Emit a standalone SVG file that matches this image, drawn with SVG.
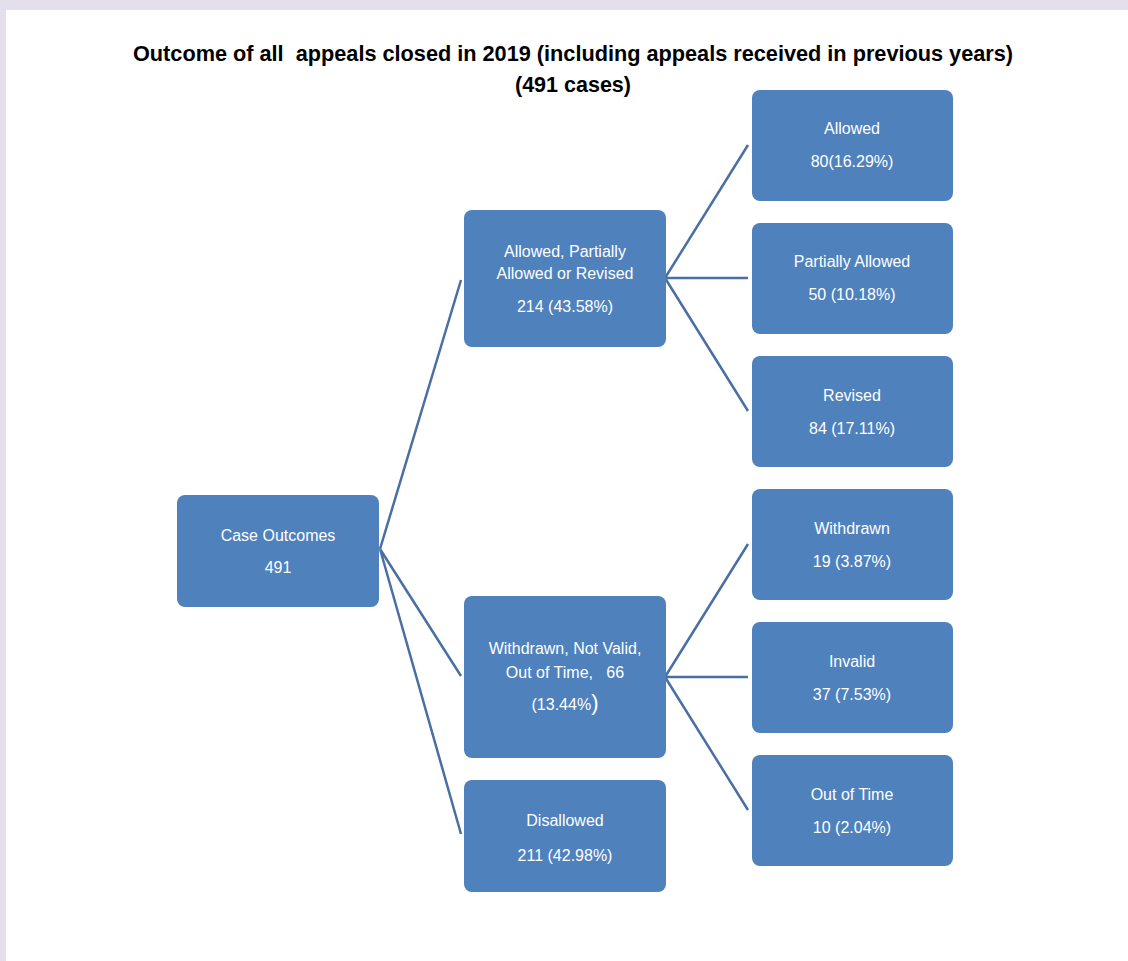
<svg xmlns="http://www.w3.org/2000/svg" width="1128" height="961" viewBox="0 0 1128 961">
<style>
.bg{fill:#E4DFEC}
.box{fill:#4F81BD}
.t{fill:#FFFFFF;font-family:"Liberation Sans Narrow","Liberation Sans",Arial,sans-serif;font-size:16px;text-anchor:middle}
.title{fill:#000000;font-family:"Liberation Sans","Open Sans",sans-serif;font-weight:bold;font-size:22px;text-anchor:middle}
.c{stroke:#4A6FA3;stroke-width:2.5;fill:none}
</style>
<rect x="0" y="0" width="1128" height="961" fill="#FFFFFF"/>
<rect class="bg" x="0" y="0" width="1128" height="10"/>
<rect class="bg" x="0" y="0" width="6" height="961"/>
<g id="title">
<text class="title" x="573" y="61" textLength="880" lengthAdjust="spacingAndGlyphs" xml:space="preserve">Outcome of all  appeals closed in 2019 (including appeals received in previous years)</text>
<text class="title" x="573" y="92" textLength="116" lengthAdjust="spacingAndGlyphs">(491 cases)</text>
</g>
<g id="connectors">
<path class="c" d="M380,549 L461,280 M380,549 L461,676 M380,549 L461,834"/>
<path class="c" d="M665,278 L748,145 M665,278 L748,278 M665,278 L748,411"/>
<path class="c" d="M665,677 L748,544 M665,677 L748,677 M665,677 L748,810"/>
</g>
<g id="root">
<rect class="box" x="177" y="495" width="202" height="112" rx="8"/>
<text class="t" x="278" y="541">Case Outcomes</text>
<text class="t" x="278" y="573">491</text>
</g>
<g id="allowed-group">
<rect class="box" x="464" y="210" width="202" height="137" rx="8"/>
<text class="t" x="565" y="257">Allowed, Partially</text>
<text class="t" x="565" y="279">Allowed or Revised</text>
<text class="t" x="565" y="312">214 (43.58%)</text>
</g>
<g id="withdrawn-group">
<rect class="box" x="464" y="596" width="202" height="162" rx="8"/>
<text class="t" x="565" y="654">Withdrawn, Not Valid,</text>
<text class="t" x="565" y="678" xml:space="preserve">Out of Time,   66</text>
<text class="t" x="565" y="710">(13.44%<tspan font-size="22px">)</tspan></text>
</g>
<g id="disallowed">
<rect class="box" x="464" y="780" width="202" height="112" rx="8"/>
<text class="t" x="565" y="826">Disallowed</text>
<text class="t" x="565" y="861">211 (42.98%)</text>
</g>
<g id="allowed">
<rect class="box" x="752" y="90" width="201" height="111" rx="8"/>
<text class="t" x="852" y="134">Allowed</text>
<text class="t" x="852" y="167">80(16.29%)</text>
</g>
<g id="partially-allowed">
<rect class="box" x="752" y="223" width="201" height="111" rx="8"/>
<text class="t" x="852" y="267">Partially Allowed</text>
<text class="t" x="852" y="300">50 (10.18%)</text>
</g>
<g id="revised">
<rect class="box" x="752" y="356" width="201" height="111" rx="8"/>
<text class="t" x="852" y="401">Revised</text>
<text class="t" x="852" y="434">84 (17.11%)</text>
</g>
<g id="withdrawn">
<rect class="box" x="752" y="489" width="201" height="111" rx="8"/>
<text class="t" x="852" y="534">Withdrawn</text>
<text class="t" x="852" y="567">19 (3.87%)</text>
</g>
<g id="invalid">
<rect class="box" x="752" y="622" width="201" height="111" rx="8"/>
<text class="t" x="852" y="667">Invalid</text>
<text class="t" x="852" y="700">37 (7.53%)</text>
</g>
<g id="out-of-time">
<rect class="box" x="752" y="755" width="201" height="111" rx="8"/>
<text class="t" x="852" y="800">Out of Time</text>
<text class="t" x="852" y="833">10 (2.04%)</text>
</g>
</svg>
